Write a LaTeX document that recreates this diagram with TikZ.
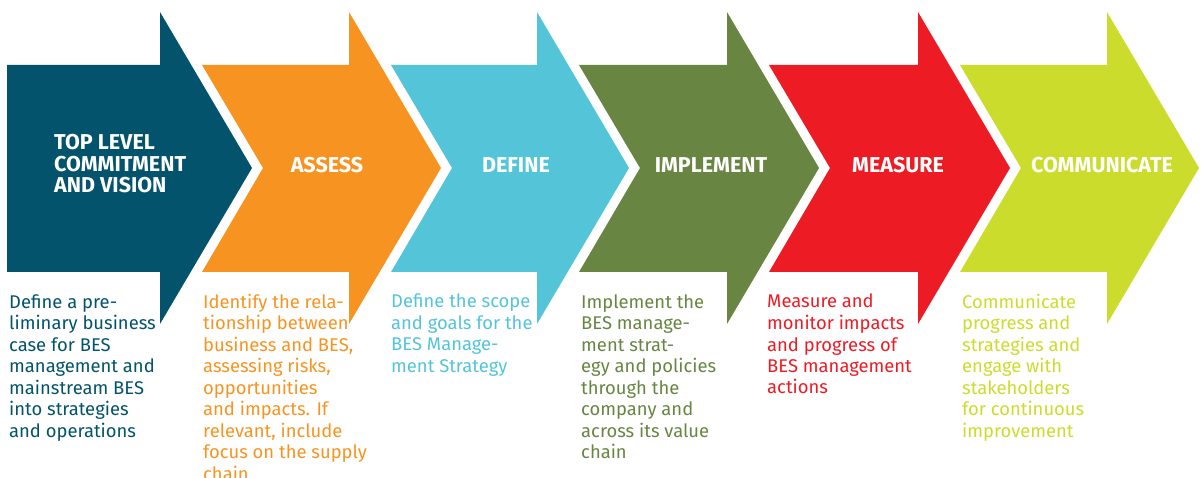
\documentclass[tikz,border=0pt]{standalone}
\usepackage{fontspec}
\setmainfont{Fira Sans}
\definecolor{besteal}{RGB}{2,83,107}
\definecolor{besorange}{RGB}{247,148,33}
\definecolor{bescyan}{RGB}{84,196,217}
\definecolor{besgreen}{RGB}{104,133,66}
\definecolor{besred}{RGB}{237,28,36}
\definecolor{beslime}{RGB}{203,220,44}

\begin{document}
\begin{tikzpicture}
    [x=1pt,y=-1pt,
     title/.style={text=white,inner sep=0pt,font=\fontsize{21.5}{21.5}\selectfont\bfseries},
     desc/.style={anchor=base west,align=left,inner sep=0pt,font=\fontsize{18.4}{21.5}\selectfont}]

    \useasboundingbox (0,0) rectangle (1203,478);

\fill[besteal]   (7,65) -- (160,65) -- (160,12) -- (252,168) -- (160,324) -- (160,272) -- (7,272) -- cycle;
\fill[besorange] (202,65) -- (349,65) -- (349,12) -- (441,168) -- (349,324) -- (349,272) -- (202,272) -- (263,168) -- cycle;
\fill[bescyan]   (391,65) -- (537,65) -- (537,12) -- (629,168) -- (537,324) -- (537,272) -- (391,272) -- (452,168) -- cycle;
\fill[besgreen]  (579,65) -- (727,65) -- (727,12) -- (819,168) -- (727,324) -- (727,272) -- (579,272) -- (640,168) -- cycle;
\fill[besred]    (769,65) -- (918,65) -- (918,12) -- (1010,168) -- (918,324) -- (918,272) -- (769,272) -- (830,168) -- cycle;
\fill[beslime]   (960,65) -- (1107,65) -- (1107,12) -- (1199,168) -- (1107,324) -- (1107,272) -- (960,272) -- (1021,168) -- cycle;

% multi-line nodes: base = baseline of the last line
\node[title,anchor=base west,align=left] (vision) at (54,193) {TOP LEVEL\\COMMITMENT\\AND VISION};
\node[title,anchor=base] (assess) at (327,173) {ASSESS};
\node[title,anchor=base] (define) at (516,173) {DEFINE};
\node[title,anchor=base] (implement) at (711,173) {IMPLEMENT};
\node[title,anchor=base] (measure) at (898,173) {MEASURE};
\node[title,anchor=base] (communicate) at (1102,173) {COMMUNICATE};

\node[desc,text=besteal] (dvision) at (9,437) {Define a pre-\\liminary business\\case for BES\\management and\\mainstream BES\\into strategies\\and operations};
\node[desc,text=besorange] (dassess) at (203,480) {Identify the rela-\\tionship between\\business and BES,\\assessing risks,\\opportunities\\and impacts. If\\relevant, include\\focus on the supply\\chain};
\node[desc,text=bescyan] (ddefine) at (391,372.5) {Define the scope\\and goals for the\\BES Manage-\\ment Strategy};
\node[desc,text=besgreen] (dimplement) at (581,458.5) {Implement the\\BES manage-\\ment strat-\\egy and policies\\through the\\company and\\across its value\\chain};
\node[desc,text=besred] (dmeasure) at (767,394) {Measure and\\monitor impacts\\and progress of\\BES management\\actions};
\node[desc,text=beslime] (dcommunicate) at (962,437) {Communicate\\progress and\\strategies and\\engage with\\stakeholders\\for continuous\\improvement};

  \end{tikzpicture}
\end{document}
